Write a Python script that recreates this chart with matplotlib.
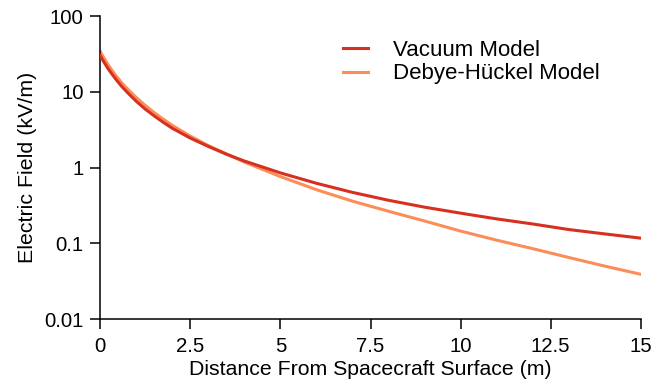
import numpy as np
import matplotlib.pyplot as plt

plt.rcParams['font.family'] = ['Liberation Sans', 'DejaVu Sans']

# distance from spacecraft surface (m)
distance = [0, 0.1, 0.2, 0.3, 0.45, 0.6, 0.8, 1, 1.25, 1.5, 1.75, 2, 2.5, 3, 3.5, 4, 5, 6, 7,
            8, 9, 10, 11, 12, 13, 14, 15]
# electric field (kV/m)
vacuum = [30, 24.8, 20.8, 17.8, 14.3, 11.7, 9.3, 7.5, 5.9, 4.8, 3.95, 3.3, 2.45, 1.9, 1.5,
          1.22, 0.85, 0.62, 0.47, 0.37, 0.30, 0.25, 0.21, 0.18, 0.152, 0.133, 0.117]
debye = [34, 28, 23.5, 20, 16, 13.1, 10.4, 8.4, 6.6, 5.3, 4.35, 3.6, 2.6, 1.95, 1.52,
         1.18, 0.76, 0.51, 0.36, 0.265, 0.197, 0.145, 0.11, 0.085, 0.065, 0.05, 0.039]

fig = plt.figure(figsize=(6.64, 3.83), dpi=100)
ax = fig.add_axes([0.151, 0.167, 0.814, 0.791])

ax.plot(distance, vacuum, color='#d7301f', lw=2.2, label='Vacuum Model', zorder=3)
ax.plot(distance, debye, color='#fc8d59', lw=2.2, label='Debye-Hückel Model', zorder=2)

ax.set_yscale('log')
ax.set_xlim(0, 15)
ax.set_ylim(0.01, 100)
ax.set_xticks([0, 2.5, 5, 7.5, 10, 12.5, 15])
ax.set_xticklabels(['0', '2.5', '5', '7.5', '10', '12.5', '15'])
ax.set_yticks([0.01, 0.1, 1, 10, 100])
ax.set_yticklabels(['0.01', '0.1', '1', '10', '100'])
ax.minorticks_off()

for s in ['top', 'right']:
    ax.spines[s].set_visible(False)
for s in ['left', 'bottom']:
    ax.spines[s].set_linewidth(1.1)
ax.tick_params(direction='out', length=7, width=1.1, labelsize=14.7, pad=5)
ax.tick_params(axis='x', pad=6)

ax.set_xlabel('Distance From Spacecraft Surface (m)', fontsize=15.3, labelpad=3)
ax.set_ylabel('Electric Field (kV/m)', fontsize=15.4, labelpad=5)

ax.legend(loc='upper left', bbox_to_anchor=(0.413, 0.988), frameon=False, fontsize=16,
          handlelength=1.12, handletextpad=1.12, labelspacing=0.12)

fig.savefig('out.png', dpi=100)
